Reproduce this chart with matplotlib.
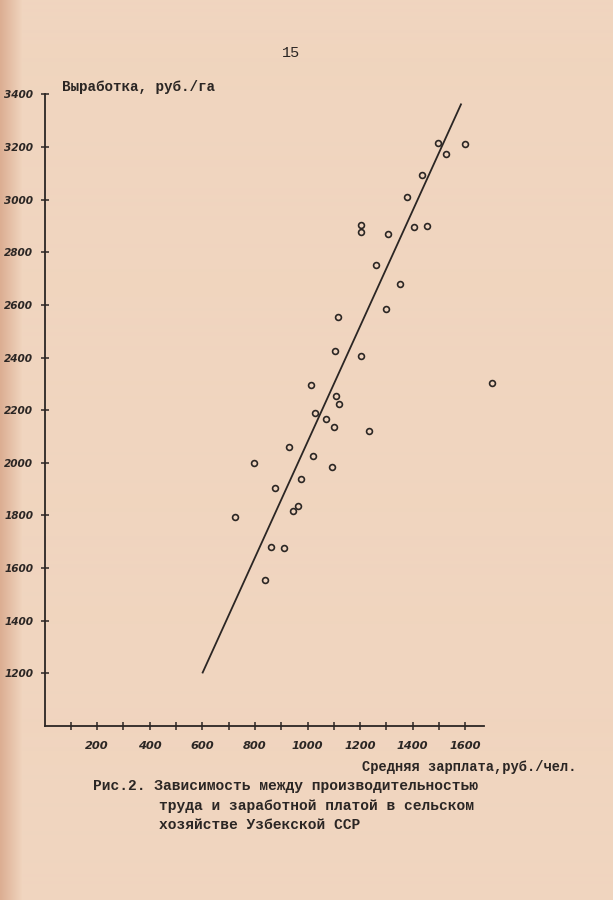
import numpy as np
import matplotlib
matplotlib.use("Agg")
import matplotlib.pyplot as plt
from matplotlib.colors import to_rgb

# ---- data ----
wage = [1495, 1600, 1525, 1435, 1380, 1205, 1205, 1305, 1405, 1455,
        1260, 1350, 1300, 1115, 1105, 1205, 1700, 1015, 1110, 1120,
        1030, 1070, 1100, 1235, 930, 795, 1020, 1095, 975, 875,
        965, 725, 945, 860, 910, 840]
output = [3215, 3210, 3175, 3095, 3010, 2905, 2875, 2870, 2895, 2900,
          2750, 2680, 2585, 2555, 2425, 2405, 2305, 2295, 2255, 2225,
          2190, 2165, 2135, 2120, 2060, 2000, 2025, 1985, 1940, 1905,
          1835, 1795, 1815, 1680, 1675, 1555]
line_x = [600, 1585]
line_y = [1200, 3365]

x_ticks = list(range(100, 1700, 100))
x_labels = ["200", "400", "600", "800", "1000", "1200", "1400", "1600"]
y_ticks = list(range(1200, 3600, 200))
y_labels = [str(v) for v in y_ticks]

ylabel_text = "Выработка, руб./га"
xlabel_text = "Средняя зарплата,руб./чел."
caption_lines = ["Рис.2. Зависимость между производительностью",
                 "труда и заработной платой в сельском",
                 "хозяйстве Узбекской ССР"]
page_number = "15"

W, H = 613, 900
paper = "#f0d5bf"
ink = "#2b2624"
mono = ["Liberation Mono", "DejaVu Sans Mono"]

fig = plt.figure(figsize=(W / 100, H / 100), dpi=100, facecolor=paper)

# background: paper colour with a darker strip at the scanned left edge
bg = fig.add_axes([0, 0, 1, 1], zorder=-5)
px = np.arange(W)
t = np.clip(px / 22.0, 0, 1)[None, :, None]
dark = np.array(to_rgb("#dcae92"))
base = np.array(to_rgb(paper))
img = dark * (1 - t) + base * t
bg.imshow(img, aspect="auto", extent=[0, 1, 0, 1], interpolation="bilinear")
bg.set_xlim(0, 1)
bg.set_ylim(0, 1)
bg.axis("off")

# main axes
left_px, bottom_px = 44.5, 726
xscale, yscale = 0.263, 0.2632
xmax, ymin, ymax = 1800, 1000, 3500
ax = fig.add_axes([left_px / W, (H - bottom_px) / H,
                   xmax * xscale / W, (ymax - ymin) * yscale / H])
ax.set_facecolor("none")
ax.set_xlim(0, xmax)
ax.set_ylim(ymin, ymax)

for s in ["top", "right"]:
    ax.spines[s].set_visible(False)
ax.spines["left"].set_bounds(1000, 3400)
ax.spines["bottom"].set_bounds(0, 1670)
for s in ["left", "bottom"]:
    ax.spines[s].set_color(ink)
    ax.spines[s].set_linewidth(1.3)

ax.set_xticks(x_ticks)
lab_map = {int(l): l for l in x_labels}
ax.set_xticklabels([lab_map.get(t, "") for t in x_ticks])
ax.set_yticks(y_ticks)
ax.set_yticklabels(y_labels)
ax.tick_params(axis="both", direction="inout", length=6, width=1.1, color=ink,
               labelcolor=ink)
ax.tick_params(axis="x", pad=8, labelsize=8.2)
ax.tick_params(axis="y", pad=5, labelsize=7.6)
for lab in ax.get_xticklabels() + ax.get_yticklabels():
    lab.set_fontstyle("italic")
    lab.set_fontweight("bold")
    lab.set_family("DejaVu Sans")

ax.plot(line_x, line_y, color=ink, lw=1.3, solid_capstyle="butt", zorder=2)
ax.plot(wage, output, linestyle="none", marker="o", markersize=4.2,
        markerfacecolor="none", markeredgecolor=ink, markeredgewidth=1.2, zorder=3)

def ftext(x, y, s, **kw):
    fig.text(x / W, 1 - y / H, s, color=ink, family=mono, **kw)

ftext(62, 87, ylabel_text, fontsize=10.3, ha="left", va="center", weight="bold")
ftext(362, 767, xlabel_text, fontsize=9.9, ha="left", va="center", weight="bold")
ftext(93, 786, caption_lines[0], fontsize=10.5, ha="left", va="center", weight="bold")
ftext(159, 806, caption_lines[1], fontsize=10.5, ha="left", va="center", weight="bold")
ftext(159, 825, caption_lines[2], fontsize=10.5, ha="left", va="center", weight="bold")
ftext(291, 53, page_number, fontsize=11, ha="center", va="center")

fig.savefig("out.png", dpi=100, facecolor=paper)
